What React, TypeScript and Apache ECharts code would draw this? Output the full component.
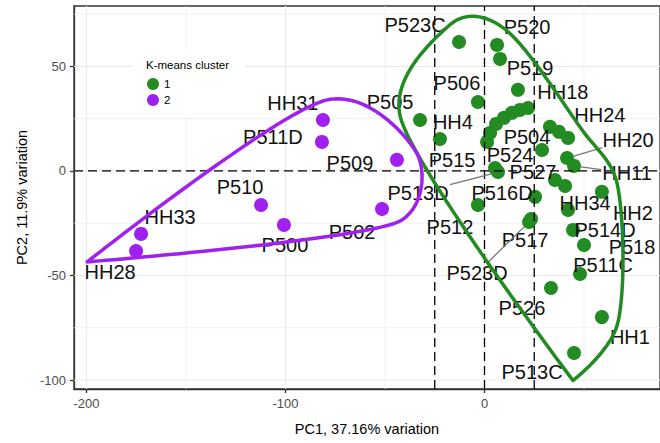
import React, { useEffect, useRef } from 'react';
import * as echarts from 'echarts';

// ---------- data ----------
const clusterNames = ['1', '2'];
const legendTitle = 'K-means cluster';
const xAxisTitle = 'PC1, 37.16% variation';
const yAxisTitle = 'PC2, 11.9% variation';

const c1Names = ['P523C', 'P520', 'P519', 'HH18', 'P506', 'P505', 'HH4', 'P515', '', '', '', '', '', '', '', 'HH24', '', 'P504', 'HH20', 'HH11', 'P524', 'P513D', 'P527', '', 'HH2', 'P516D', 'HH34', 'P512', 'P517', 'P523D', 'P514D', 'P518', 'P511C', 'P526', 'HH1', 'P513C'];
const c1X = [-12.8, 6.3, 7.8, 16.8, -3.3, -32.4, -22.4, 1.3, 2.8, 5.8, 9.8, 13.8, 17.8, 21.9, 32.9, 37.4, 42.0, 28.9, 41.5, 45.0, 5.3, 6.8, 35.4, 40.5, 59.0, 25.4, 42.0, -3.3, 23.4, 22.4, 44.5, 50.0, 48.0, 33.4, 59.0, 45.0];
const c1Y = [61.7, 60.3, 53.6, 38.8, 33.0, 24.4, 15.3, 13.9, 18.2, 22.5, 25.4, 27.8, 29.2, 30.1, 21.1, 18.7, 15.8, 10.0, 6.2, 2.4, 1.4, -0.5, -4.3, -7.2, -10.0, -12.4, -18.7, -16.3, -23.0, -24.4, -28.2, -35.4, -49.3, -56.0, -69.9, -87.1];

const c2Names = ['HH31', 'P511D', 'P509', 'P502', 'P510', 'P500', 'HH33', 'HH28'];
const c2X = [-81.2, -81.7, -44.0, -51.5, -112.3, -100.8, -172.6, -175.1];
const c2Y = [24.4, 13.9, 5.3, -18.2, -16.3, -25.8, -30.1, -38.3];

const xTicks = [-200, -100, 0];
const yTicks = [-100, -50, 0, 50];
const xMinorGrid = [-150, -50, 50];
const yMinorGrid = [-75, -25, 25, 75];
const vRefLines = [-25, 0, 25];
const hRefLines = [0];

// ---------- layout / style ----------
const X_MIN = -206.3, X_MAX = 88.2, Y_MIN = -104.3, Y_MAX = 78.9;
const FONT = '"Liberation Sans", Arial, Helvetica, sans-serif';
const COLORS = ['#228B22', '#A020F0'];
const LABEL_SIZE = 20;
const HULL_EXPAND = 16;

// label offsets in pixels from the point centre: [dx, dy, connector]
const labelLayout: Record<string, [number, number, boolean?]> = {
  HH31: [-30, -17], P511D: [-49, -5], P509: [-47, 3], P502: [-30, 23], P510: [-21, -18],
  P500: [1, 20], HH33: [29, -17], HH28: [-26, 21],
  P523C: [-44, -17], P520: [30, -18], P519: [30, 9], HH18: [45, 2], P506: [-21, -19],
  P505: [-30, -18], HH4: [13, -17], P515: [-35, 18], HH24: [41, -17], P504: [-15, -13],
  HH20: [61, -18, true], HH11: [53, 7, true], P524: [15, -13], P513D: [-80, 21, true],
  P527: [-22, -8], HH2: [31, 21], P516D: [-33, -4], HH34: [17, -7], P512: [-28, 22],
  P517: [-6, 21], P523D: [-52, 51, true], P514D: [32, 0], P518: [48, 2], P511C: [23, -9],
  P526: [-29, 20], HH1: [28, 20], P513C: [-42, 19],
};

type Pt = number[];
const dist = (a: Pt, b: Pt) => Math.hypot(a[0] - b[0], a[1] - b[1]);

function convexHull(pts: Pt[]): Pt[] {
  const p = pts.slice().sort((a, b) => a[0] - b[0] || a[1] - b[1]);
  const cross = (o: Pt, a: Pt, b: Pt) => (a[0] - o[0]) * (b[1] - o[1]) - (a[1] - o[1]) * (b[0] - o[0]);
  const lower: Pt[] = [];
  for (const q of p) {
    while (lower.length >= 2 && cross(lower[lower.length - 2], lower[lower.length - 1], q) <= 0) lower.pop();
    lower.push(q);
  }
  const upper: Pt[] = [];
  for (let i = p.length - 1; i >= 0; i--) {
    const q = p[i];
    while (upper.length >= 2 && cross(upper[upper.length - 2], upper[upper.length - 1], q) <= 0) upper.pop();
    upper.push(q);
  }
  return lower.slice(0, -1).concat(upper.slice(0, -1));
}

function encircle(pts: Pt[], d: number): Pt[] {
  const raw = convexHull(pts);
  // merge hull vertices that are very close together
  const h: Pt[] = [];
  for (const v of raw) {
    const last = h[h.length - 1];
    if (last && dist(last, v) < 25) h[h.length - 1] = [(last[0] + v[0]) / 2, (last[1] + v[1]) / 2];
    else h.push(v.slice());
  }
  if (h.length > 3 && dist(h[0], h[h.length - 1]) < 25) {
    const l = h.pop()!;
    h[0] = [(h[0][0] + l[0]) / 2, (h[0][1] + l[1]) / 2];
  }
  const n = h.length;
  const cx = pts.reduce((s, p) => s + p[0], 0) / pts.length;
  const cy = pts.reduce((s, p) => s + p[1], 0) / pts.length;
  const normals: Pt[] = [];
  for (let i = 0; i < n; i++) {
    const a = h[i], b = h[(i + 1) % n];
    const dx = b[0] - a[0], dy = b[1] - a[1];
    const len = Math.hypot(dx, dy) || 1;
    let nx = dy / len, ny = -dx / len;
    const mx = (a[0] + b[0]) / 2, my = (a[1] + b[1]) / 2;
    if ((mx - cx) * nx + (my - cy) * ny < 0) { nx = -nx; ny = -ny; }
    normals.push([nx, ny]);
  }
  const V = h.map((v, i) => {
    const n1 = normals[(i - 1 + n) % n], n2 = normals[i];
    let mx = n1[0] + n2[0], my = n1[1] + n2[1];
    const ml = Math.hypot(mx, my) || 1;
    mx /= ml; my /= ml;
    const c = Math.max(mx * n1[0] + my * n1[1], 0.05);
    const L = Math.min(d / c, 55);
    return [v[0] + mx * L, v[1] + my * L];
  });
  // sharp corners where the interior angle is acute
  const sharp = V.map((v, i) => {
    const a = V[(i - 1 + n) % n], b = V[(i + 1) % n];
    const ux = a[0] - v[0], uy = a[1] - v[1], wx = b[0] - v[0], wy = b[1] - v[1];
    const cos = (ux * wx + uy * wy) / ((Math.hypot(ux, uy) * Math.hypot(wx, wy)) || 1);
    return Math.acos(Math.max(-1, Math.min(1, cos))) < (80 * Math.PI) / 180;
  });
  const handle = (i: number, segLen: number): Pt => {
    if (sharp[i]) return [0, 0];
    const a = V[(i - 1 + n) % n], b = V[(i + 1) % n];
    let hx = (b[0] - a[0]) / 6, hy = (b[1] - a[1]) / 6;
    const hl = Math.hypot(hx, hy);
    const cap = 0.4 * segLen;
    if (hl > cap) { hx *= cap / hl; hy *= cap / hl; }
    return [hx, hy];
  };
  const out: Pt[] = [];
  for (let i = 0; i < n; i++) {
    const P0 = V[i], P3 = V[(i + 1) % n];
    const sl = dist(P0, P3);
    const h0 = handle(i, sl), h1 = handle((i + 1) % n, sl);
    const P1 = [P0[0] + h0[0], P0[1] + h0[1]];
    const P2 = [P3[0] - h1[0], P3[1] - h1[1]];
    const steps = 30;
    for (let s = 0; s < steps; s++) {
      const t = s / steps, u = 1 - t;
      out.push([
        u * u * u * P0[0] + 3 * u * u * t * P1[0] + 3 * u * t * t * P2[0] + t * t * t * P3[0],
        u * u * u * P0[1] + 3 * u * u * t * P1[1] + 3 * u * t * t * P2[1] + t * t * t * P3[1],
      ]);
    }
  }
  return out;
}

function buildOption() {
  const clusters = [
    { names: c1Names, xs: c1X, ys: c1Y },
    { names: c2Names, xs: c2X, ys: c2Y },
  ];
  const scatterSeries = clusters.map((c, ci) => ({
    name: clusterNames[ci],
    type: 'scatter',
    z: 3,
    symbol: 'circle',
    symbolSize: 14,
    itemStyle: { color: COLORS[ci], opacity: 1 },
    emphasis: { disabled: true },
    data: c.xs.map((x, i) => ({ value: [x, c.ys[i]], name: c.names[i] })),
  }));

  const gridSeries = {
    name: 'grid',
    type: 'custom',
    z: 1,
    silent: true,
    data: [[0, 0]],
    renderItem: (_p: any, api: any) => {
      const children: any[] = [];
      const addV = (v: number, w: number) => {
        const a = api.coord([v, Y_MIN]), b = api.coord([v, Y_MAX]);
        children.push({ type: 'line', shape: { x1: a[0], y1: a[1], x2: b[0], y2: b[1] }, style: { stroke: '#EBEBEB', lineWidth: w } });
      };
      const addH = (v: number, w: number) => {
        const a = api.coord([X_MIN, v]), b = api.coord([X_MAX, v]);
        children.push({ type: 'line', shape: { x1: a[0], y1: a[1], x2: b[0], y2: b[1] }, style: { stroke: '#EBEBEB', lineWidth: w } });
      };
      xMinorGrid.forEach((v) => addV(v, 0.7));
      yMinorGrid.forEach((v) => addH(v, 0.7));
      xTicks.forEach((v) => addV(v, 1.2));
      yTicks.forEach((v) => addH(v, 1.2));
      return { type: 'group', children };
    },
  };

  const refSeries = {
    name: 'ref',
    type: 'custom',
    z: 4,
    silent: true,
    data: [[0, 0]],
    renderItem: (_p: any, api: any) => {
      const children: any[] = [];
      const st = { stroke: '#000', lineWidth: 1.3, lineDash: [9, 5] };
      vRefLines.forEach((v) => {
        const a = api.coord([v, Y_MIN]), b = api.coord([v, Y_MAX]);
        children.push({ type: 'line', shape: { x1: a[0], y1: a[1], x2: b[0], y2: b[1] }, style: st });
      });
      hRefLines.forEach((v) => {
        const a = api.coord([X_MIN, v]), b = api.coord([X_MAX, v]);
        children.push({ type: 'line', shape: { x1: a[0], y1: a[1], x2: b[0], y2: b[1] }, style: st });
      });
      return { type: 'group', children };
    },
  };

  const labelSeries = {
    name: 'labels',
    type: 'custom',
    z: 5,
    silent: true,
    data: [[0, 0]],
    renderItem: (_p: any, api: any) => {
      const children: any[] = [];
      clusters.forEach((c) => {
        c.names.forEach((nm, i) => {
          const lay = labelLayout[nm];
          if (!nm || !lay) return;
          const p = api.coord([c.xs[i], c.ys[i]]);
          const lx = p[0] + lay[0], ly = p[1] + lay[1];
          if (lay[2]) {
            const hw = nm.length * LABEL_SIZE * 0.31 + 1, hh = LABEL_SIZE * 0.45;
            const dx = p[0] - lx, dy = p[1] - ly;
            const t = Math.min(hw / Math.abs(dx || 1e-6), hh / Math.abs(dy || 1e-6));
            const sx = lx + dx * t, sy = ly + dy * t;
            const dl = Math.hypot(dx, dy);
            const ex = p[0] - (dx / dl) * 7, ey = p[1] - (dy / dl) * 7;
            children.push({ type: 'line', shape: { x1: sx, y1: sy, x2: ex, y2: ey }, style: { stroke: '#777', lineWidth: 1.3 } });
          }
          children.push({
            type: 'text', x: lx, y: ly,
            style: { text: nm, fill: '#111', fontSize: LABEL_SIZE, fontFamily: FONT, align: 'center', verticalAlign: 'middle' },
          });
        });
      });
      return { type: 'group', children };
    },
  };

  const hullSeries = {
    name: 'hull',
    type: 'custom',
    z: 6,
    silent: true,
    data: [[0, 0], [0, 0]],
    renderItem: (params: any, api: any) => {
      const ci = params.dataIndex;
      const c = clusters[ci];
      const pts = c.xs.map((x, i) => api.coord([x, c.ys[i]]));
      const poly = encircle(pts, HULL_EXPAND);
      return {
        type: 'polygon',
        shape: { points: poly },
        style: { fill: 'none', stroke: COLORS[ci], lineWidth: 3.5, lineJoin: 'round' },
      };
    },
  };

  const axisCommon = {
    type: 'value',
    nameLocation: 'middle',
    nameTextStyle: { fontSize: 14.5, color: '#000', fontFamily: FONT },
    axisLine: { show: true, onZero: false, lineStyle: { color: '#333', width: 1.3 } },
    splitLine: { show: false },
  };

  return {
    animation: false,
    backgroundColor: '#fff',
    textStyle: { fontFamily: FONT },
    title: {
      text: legendTitle, left: 146, top: 59, padding: 0, z: 10,
      textStyle: { fontSize: 11.5, fontWeight: 'normal', color: '#000', fontFamily: FONT },
    },
    legend: {
      data: clusterNames, orient: 'vertical', left: 147, top: 78, padding: 0,
      itemWidth: 12, itemHeight: 12, itemGap: 4, icon: 'circle', z: 10,
      textStyle: { fontSize: 11.5, color: '#000', fontFamily: FONT },
      selectedMode: false,
    },
    graphic: [
      { type: 'rect', z: 2, silent: true, shape: { x: 132, y: 50, width: 113, height: 67 }, style: { fill: '#fff' } },
    ],
    grid: { left: 74, right: 0, top: 6, bottom: 54, show: true, borderColor: '#333', borderWidth: 1.3, backgroundColor: 'transparent' },
    xAxis: {
      ...axisCommon,
      min: X_MIN, max: X_MAX,
      name: xAxisTitle, nameGap: 32,
      axisTick: { show: true, length: 4, customValues: xTicks, lineStyle: { color: '#333', width: 1.3 } },
      axisLabel: { customValues: xTicks, color: '#4D4D4D', fontSize: 13, margin: 8, fontFamily: FONT },
    },
    yAxis: {
      ...axisCommon,
      min: Y_MIN, max: Y_MAX,
      name: yAxisTitle, nameGap: 44,
      axisTick: { show: true, length: 4, customValues: yTicks, lineStyle: { color: '#333', width: 1.3 } },
      axisLabel: { customValues: yTicks, color: '#4D4D4D', fontSize: 13, margin: 8, fontFamily: FONT },
    },
    series: [gridSeries, ...scatterSeries, refSeries, labelSeries, hullSeries],
  };
}

export default function App() {
  const ref = useRef<HTMLDivElement>(null);
  useEffect(() => {
    const chart = echarts.init(ref.current!, null, { renderer: 'svg' });
    chart.setOption(buildOption() as any);
    return () => chart.dispose();
  }, []);
  return <div ref={ref} style={{ position: 'fixed', left: 0, top: 0, width: 660, height: 443, background: '#fff' }} />;
}
